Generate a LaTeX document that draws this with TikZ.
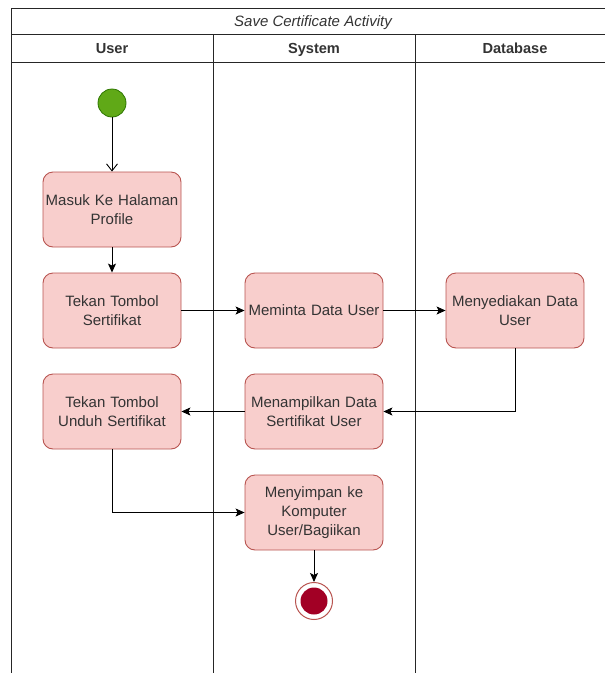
\documentclass[tikz,border=0pt]{standalone}
\usepackage{fontspec}
\setmainfont{Liberation Sans}
\usetikzlibrary{arrows.meta}
\definecolor{actfill}{HTML}{F8CECC}
\definecolor{actline}{HTML}{B85450}
\definecolor{starfill}{HTML}{60A917}
\definecolor{starline}{HTML}{2D7600}
\definecolor{endfill}{HTML}{A20025}
\definecolor{endline}{HTML}{6F0000}
\definecolor{txt}{HTML}{333333}
\tikzset{
  act/.style={draw=actline, fill=actfill, line width=0.9pt, rounded corners=10pt,
    minimum width=138pt, minimum height=75pt, align=center, text width=136pt,
    font=\fontsize{15}{19}\selectfont, text=txt, inner sep=0pt},
  head/.style={font=\fontsize{14.6}{17}\selectfont\bfseries, text=txt, anchor=base},
  flow/.style={draw=black, line width=0.9pt, -{Stealth[length=9pt,width=8pt,inset=2pt]}},
  openflow/.style={draw=black, line width=0.9pt, -{Straight Barb[length=7pt,width=11pt]}},
  lane/.style={draw=black!85, line width=1pt},
}
\begin{document}
\begin{tikzpicture}[x=1pt,y=-1pt]
\useasboundingbox (0,0) rectangle (605,673);
% swimlane frame
\draw[lane] (11,673) -- (11,8) -- (615,8) -- (615,673);
\draw[lane] (11,34) -- (615,34);
\draw[lane] (11,62) -- (615,62);
\draw[lane] (213,34) -- (213,673);
\draw[lane] (415,34) -- (415,673);
\node[font=\fontsize{15}{17}\selectfont\itshape, text=txt, anchor=base] (title) at (313,26) {Save Certificate Activity};
\node[head] (huser) at (112,53.5) {User};
\node[head] (hsys) at (314,53.5) {System};
\node[head] (hdb) at (515,53.5) {Database};

% start and end states
\node[circle, draw=starline, fill=starfill, line width=0.8pt, minimum size=28pt, inner sep=0pt] (start) at (112,103) {};
\node[circle, draw=actline, fill=white, line width=1pt, minimum size=37pt, inner sep=0pt] (stop) at (314,601) {};
\node[circle, fill=endfill, minimum size=27pt, inner sep=0pt] (stopin) at (314,601) {};

% activities
\node[act] (profile) at (112,209.5) {Masuk Ke Halaman\\Profile};
\node[act] (tombol) at (112,310.5) {Tekan Tombol\\Sertifikat};
\node[act] (minta) at (314,310.5) {Meminta Data User};
\node[act] (sedia) at (515,310.5) {Menyediakan Data\\User};
\node[act] (unduh) at (112,411.5) {Tekan Tombol\\Unduh Sertifikat};
\node[act] (tampil) at (314,411.5) {Menampilkan Data\\Sertifikat User};
\node[act] (simpan) at (314,512.5) {Menyimpan ke\\Komputer\\User/Bagiikan};

% flows
\draw[openflow] (start) -- (profile);
\draw[flow] (profile) -- (tombol);
\draw[flow] (tombol) -- (minta);
\draw[flow] (minta) -- (sedia);
\draw[flow] (sedia.south) |- (tampil.east);
\draw[flow] (tampil) -- (unduh);
\draw[flow] (unduh.south) |- (simpan.west);
\draw[flow] (simpan) -- (stop);
\end{tikzpicture}
\end{document}
